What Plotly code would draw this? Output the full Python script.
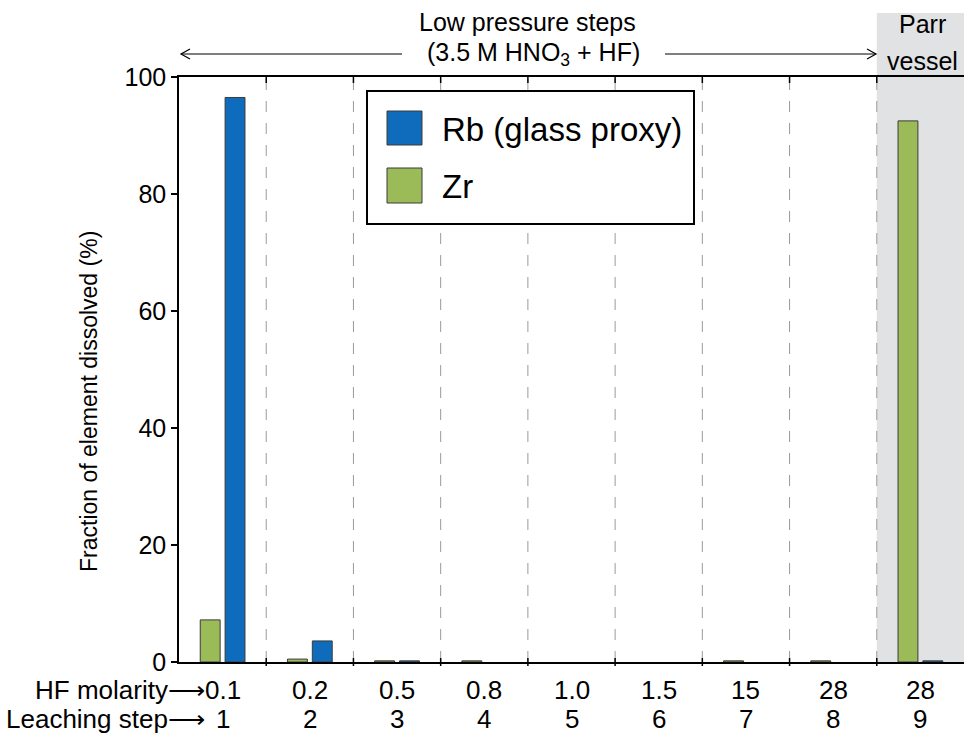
import plotly.graph_objects as go

# ---- data ----
hf_molarity = ["0.1", "0.2", "0.5", "0.8", "1.0", "1.5", "15", "28", "28"]
leaching_step = ["1", "2", "3", "4", "5", "6", "7", "8", "9"]
zr_values = [7.2, 0.5, 0.2, 0.2, 0.0, 0.0, 0.2, 0.2, 92.5]
rb_values = [96.5, 3.6, 0.2, 0.0, 0.0, 0.0, 0.0, 0.0, 0.2]
y_ticks = [0, 20, 40, 60, 80, 100]

FONT = "Liberation Sans, Arial, sans-serif"
BLUE = "#0F6CBD"
GREEN = "#9BBB59"
OUTLINE = "#3a3a3a"

# plot area in pixels (for paper-coordinate helpers)
L, R, T, B = 179, 964, 77, 662
W_AREA, H_AREA = R - L, B - T


def px_x(px):
    return (px - L) / W_AREA


def px_y(py):
    return (B - py) / H_AREA


positions = list(range(len(leaching_step)))

fig = go.Figure()
fig.add_trace(go.Bar(x=positions, y=zr_values, name="Zr",
                     marker=dict(color=GREEN,
                                 line=dict(color=OUTLINE,
                                           width=[1 if v > 0 else 0 for v in zr_values])),
                     showlegend=False))
fig.add_trace(go.Bar(x=positions, y=rb_values, name="Rb (glass proxy)",
                     marker=dict(color=BLUE,
                                 line=dict(color=OUTLINE,
                                           width=[1 if v > 0 else 0 for v in rb_values])),
                     showlegend=False))

shapes = []
n = len(positions)
# Parr vessel shaded region
shapes.append(dict(type="rect", xref="x", yref="paper", x0=n - 1.5, x1=n - 0.5,
                   y0=0, y1=px_y(13), fillcolor="#E1E2E4", line=dict(width=0),
                   layer="below"))
# dashed separators + ticks
for i in range(n - 1):
    xb = i + 0.5
    shapes.append(dict(type="line", xref="x", yref="paper", x0=xb, x1=xb, y0=0, y1=1,
                       line=dict(color="#9a9a9a", width=1, dash="11px,11px"), layer="below"))
    shapes.append(dict(type="line", xref="x", yref="paper", x0=xb, x1=xb,
                       y0=-4 / H_AREA, y1=4 / H_AREA, line=dict(color="black", width=1.5)))
    shapes.append(dict(type="line", xref="x", yref="paper", x0=xb, x1=xb,
                       y0=1, y1=1 - 6 / H_AREA, line=dict(color="black", width=1.5)))

# top arrows
ya = px_y(54)
shapes.append(dict(type="line", xref="paper", yref="paper", x0=px_x(181), x1=px_x(402),
                   y0=ya, y1=ya, line=dict(color="black", width=1.2)))
shapes.append(dict(type="path", xref="paper", yref="paper",
                   path=f"M {px_x(190)} {px_y(49)} L {px_x(181)} {ya} L {px_x(190)} {px_y(59)}",
                   line=dict(color="black", width=1.2)))
shapes.append(dict(type="line", xref="paper", yref="paper", x0=px_x(665), x1=px_x(876),
                   y0=ya, y1=ya, line=dict(color="black", width=1.2)))
shapes.append(dict(type="path", xref="paper", yref="paper",
                   path=f"M {px_x(867)} {px_y(49)} L {px_x(876)} {ya} L {px_x(867)} {px_y(59)}",
                   line=dict(color="black", width=1.2)))

# manual legend
shapes.append(dict(type="rect", xref="paper", yref="paper", x0=px_x(367), x1=px_x(694),
                   y0=px_y(224), y1=px_y(91), line=dict(color="black", width=2),
                   fillcolor="white"))
shapes.append(dict(type="rect", xref="paper", yref="paper", x0=px_x(387), x1=px_x(422),
                   y0=px_y(145), y1=px_y(111), line=dict(color=OUTLINE, width=1),
                   fillcolor=BLUE))
shapes.append(dict(type="rect", xref="paper", yref="paper", x0=px_x(387), x1=px_x(422),
                   y0=px_y(203), y1=px_y(168), line=dict(color=OUTLINE, width=1),
                   fillcolor=GREEN))

annotations = []
tick_font = dict(family=FONT, size=26, color="black")
for i in positions:
    annotations.append(dict(x=i, xref="x", y=px_y(690), yref="paper", text=hf_molarity[i],
                            showarrow=False, font=tick_font, xanchor="center", yanchor="middle"))
    annotations.append(dict(x=i, xref="x", y=px_y(719), yref="paper", text=leaching_step[i],
                            showarrow=False, font=tick_font, xanchor="center", yanchor="middle"))
annotations.append(dict(x=px_x(207), xref="paper", y=px_y(690), yref="paper",
                        text="HF molarity\u27f6", showarrow=False, font=tick_font,
                        xanchor="right", yanchor="middle"))
annotations.append(dict(x=px_x(207), xref="paper", y=px_y(719), yref="paper",
                        text="Leaching step\u27f6", showarrow=False, font=tick_font,
                        xanchor="right", yanchor="middle"))
annotations.append(dict(x=px_x(89), xref="paper", y=px_y(402), yref="paper",
                        text="Fraction of element dissolved (%)", textangle=-90,
                        showarrow=False, font=dict(family=FONT, size=23, color="black"),
                        xanchor="center", yanchor="middle"))
big = dict(family=FONT, size=25, color="black")
annotations.append(dict(x=px_x(527), xref="paper", y=px_y(22), yref="paper",
                        text="Low pressure steps", showarrow=False, font=big,
                        xanchor="center", yanchor="middle"))
annotations.append(dict(x=px_x(533), xref="paper", y=px_y(54), yref="paper",
                        text="(3.5 M HNO<sub>3</sub> + HF)", showarrow=False, font=big,
                        xanchor="center", yanchor="middle"))
annotations.append(dict(x=px_x(922), xref="paper", y=px_y(24), yref="paper",
                        text="Parr", showarrow=False, font=big,
                        xanchor="center", yanchor="middle"))
annotations.append(dict(x=px_x(922), xref="paper", y=px_y(61), yref="paper",
                        text="vessel", showarrow=False, font=big,
                        xanchor="center", yanchor="middle"))
annotations.append(dict(x=px_x(440), xref="paper", y=px_y(129), yref="paper",
                        text="Rb (glass proxy)", showarrow=False,
                        font=dict(family=FONT, size=33, color="black"),
                        xanchor="left", yanchor="middle"))
annotations.append(dict(x=px_x(440), xref="paper", y=px_y(186), yref="paper",
                        text="Zr", showarrow=False,
                        font=dict(family=FONT, size=33, color="black"),
                        xanchor="left", yanchor="middle"))

fig.update_layout(
    width=964, height=736,
    margin=dict(l=L, r=964 - R, t=T, b=736 - B, autoexpand=False),
    paper_bgcolor="white", plot_bgcolor="rgba(0,0,0,0)",
    barmode="group", bargap=0.43, bargroupgap=0.2,
    font=dict(family=FONT, color="black"),
    shapes=shapes, annotations=annotations,
    showlegend=False,
)
fig.update_xaxes(range=[-0.5, n - 0.5], showticklabels=False, ticks="",
                 showgrid=False, zeroline=False, showline=True, mirror=True,
                 linecolor="black", linewidth=1.5)
fig.update_yaxes(range=[0, 100], tickvals=y_ticks, ticks="outside", ticklen=6,
                 tickwidth=1.5, tickcolor="black", showgrid=False, zeroline=False,
                 showline=True, linecolor="black", linewidth=1.5,
                 tickfont=dict(family=FONT, size=25, color="black"))

fig.write_html("out.html", config={"displayModeBar": False},
               post_script="document.body.style.margin='0';document.body.style.overflow='hidden';")
